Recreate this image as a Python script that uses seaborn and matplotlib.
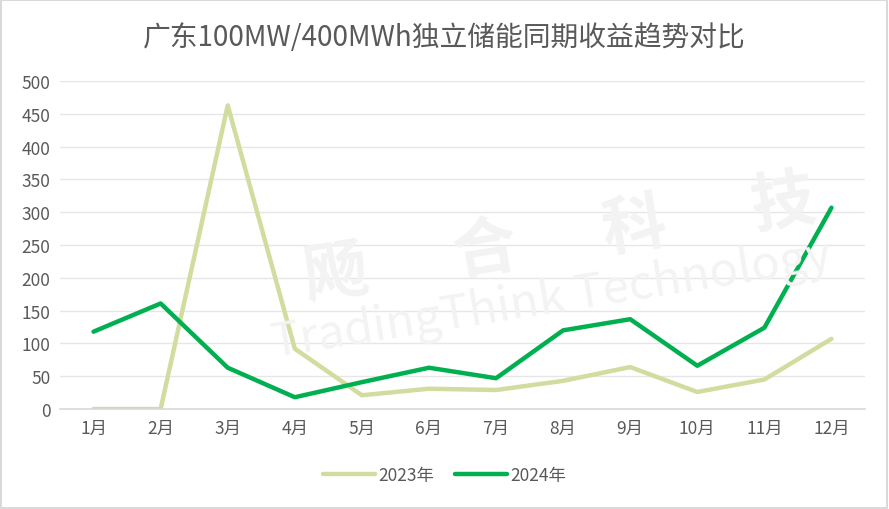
import matplotlib
matplotlib.use("Agg")
import matplotlib.pyplot as plt
import seaborn as sns
import pandas as pd
import numpy as np

months = ['1月', '2月', '3月', '4月', '5月', '6月', '7月', '8月', '9月', '10月', '11月', '12月']
y2023 = [0, 0, 463, 92, 21, 31, 29, 43, 64, 26, 45, 107]
y2024 = [118, 161, 63, 18, 41, 63, 47, 120, 137, 66, 124, 307]
series = ['2023年', '2024年']
colors = ['#D0DD9E', '#00B050']

df = pd.DataFrame({
    'month': months * 2,
    'x': list(range(len(months))) * 2,
    'value': y2023 + y2024,
    'year': [series[0]] * len(months) + [series[1]] * len(months),
})

sns.set_style('white')
plt.rcParams['font.family'] = ['Noto Sans CJK SC', 'DejaVu Sans']

fig = plt.figure(figsize=(8.89, 5.10), dpi=100)
ax = fig.add_axes([0.0675, 0.196, 0.9055, 0.643])

# faint watermark
fig.text(0.63, 0.53, '飏      合      科      技', fontsize=46, color='#F3F3F3',
         rotation=9, ha='center', va='center', fontweight='bold', zorder=0)
fig.text(0.62, 0.41, 'TradingThink Technology', fontsize=34, color='#F3F3F3',
         rotation=9, ha='center', va='center', zorder=0)

sns.lineplot(data=df, x='x', y='value', hue='year', palette=colors,
             linewidth=3.2, ax=ax, legend=False, solid_capstyle='round')

ax.set_xlim(-0.5, 11.5)
ax.set_ylim(0, 500)
ax.set_yticks(range(0, 501, 50))
ax.set_xticks(range(len(months)))
ax.set_xticklabels(months)
ax.set_xlabel('')
ax.set_ylabel('')
ax.patch.set_alpha(0)
ax.grid(axis='y', color='#E6E6E6', linewidth=1)
ax.set_axisbelow(True)
for s in ['top', 'right', 'left']:
    ax.spines[s].set_visible(False)
ax.spines['bottom'].set_color('#D9D9D9')
ax.spines['bottom'].set_linewidth(1.2)
ax.tick_params(axis='both', length=0, labelsize=12.5, colors='#595959', pad=7)

fig.suptitle('广东100MW/400MWh独立储能同期收益趋势对比', y=0.955,
             fontsize=20, color='#595959')

handles = [plt.Line2D([], [], color=c, linewidth=3.2, solid_capstyle='round') for c in colors]
fig.legend(handles, series, loc='center', bbox_to_anchor=(0.5, 0.067), ncol=2,
           frameon=False, fontsize=12.5, labelcolor='#595959', handlelength=3,
           handletextpad=0.2, columnspacing=1.2)

fig.patches.append(plt.Rectangle((0.001, 0.002), 0.997, 0.996, transform=fig.transFigure,
                                 fill=False, edgecolor='#D9D9D9', linewidth=1.5))

fig.savefig('out.png', dpi=100)
